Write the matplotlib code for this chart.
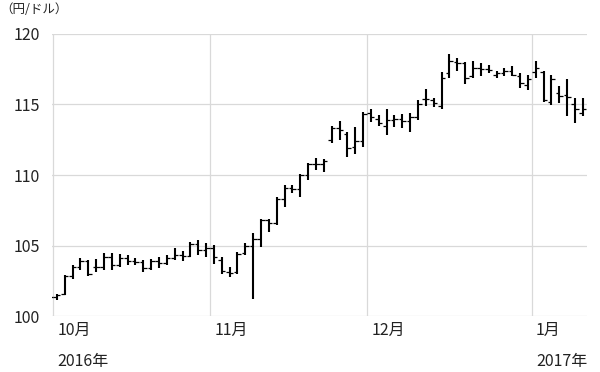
import numpy as np
from matplotlib import pyplot as plt

plt.rcParams['font.family'] = ['Noto Sans CJK JP', 'DejaVu Sans']

# daily bars, 2016-09-30 .. 2017-01-13 (Tokyo trading days)
dates = ['09/30',
         '10/03', '10/04', '10/05', '10/06', '10/07', '10/11', '10/12', '10/13', '10/14', '10/17',
         '10/18', '10/19', '10/20', '10/21', '10/24', '10/25', '10/26', '10/27', '10/28', '10/31',
         '11/01', '11/02', '11/04', '11/07', '11/08', '11/09', '11/10', '11/11', '11/14', '11/15',
         '11/16', '11/17', '11/18', '11/21', '11/22', '11/24', '11/25', '11/28', '11/29', '11/30',
         '12/01', '12/02', '12/05', '12/06', '12/07', '12/08', '12/09', '12/12', '12/13', '12/14',
         '12/15', '12/16', '12/19', '12/20', '12/21', '12/22', '12/26', '12/27', '12/28', '12/29',
         '12/30',
         '01/04', '01/05', '01/06', '01/10', '01/11', '01/12', '01/13']

opens = [101.20,
         101.35, 101.55, 102.85, 103.50, 103.90, 103.50, 103.50, 104.20, 103.60, 104.10,
         103.90, 103.85, 103.40, 103.90, 103.80, 104.10, 104.30, 104.25, 105.10, 104.70,
         104.85, 104.00, 103.10, 103.10, 104.45, 105.00, 105.50, 106.80, 106.60, 108.30,
         109.10, 109.00, 110.00, 110.80, 110.80, 112.50, 113.30, 112.90, 112.00, 112.40,
         114.40, 114.00, 113.50, 113.90, 114.00, 113.80, 114.10, 115.40, 115.30, 114.90,
         117.20, 118.00, 117.90, 117.00, 117.60, 117.50, 117.10, 117.20, 117.40, 117.00,
         116.40,
         117.30, 117.30, 115.20, 115.80, 115.70, 115.00, 114.40]

highs = [101.60,
         101.60, 102.90, 103.60, 104.13, 104.00, 104.08, 104.50, 104.49, 104.39, 104.32,
         104.13, 103.97, 104.08, 104.16, 104.32, 104.80, 104.63, 105.27, 105.43, 105.20,
         105.03, 104.16, 103.50, 104.56, 105.15, 105.86, 106.92, 106.85, 108.45, 109.28,
         109.28, 110.10, 110.86, 111.24, 111.17, 113.46, 113.84, 113.06, 113.37, 114.43,
         114.71, 114.24, 114.71, 114.24, 114.31, 114.36, 115.30, 116.06, 115.43, 117.30,
         118.60, 118.32, 118.00, 118.06, 117.95, 117.78, 117.38, 117.55, 117.71, 117.24,
         117.07,
         118.09, 117.38, 117.07, 116.29, 116.77, 115.43, 115.43]

lows = [100.90,
        101.13, 101.50, 102.60, 103.26, 102.83, 103.14, 103.26, 103.30, 103.50, 103.60,
        103.60, 103.14, 103.30, 103.38, 103.60, 104.00, 103.92, 104.20, 104.32, 104.20,
        103.73, 102.98, 102.80, 103.02, 104.32, 101.20, 104.90, 105.97, 106.45, 107.70,
        108.74, 108.45, 109.68, 110.34, 110.18, 112.28, 112.47, 111.29, 111.52, 112.00,
        113.77, 113.46, 112.82, 113.41, 113.34, 113.06, 113.93, 114.88, 114.83, 114.71,
        116.90, 117.38, 116.48, 116.90, 117.00, 117.24, 116.90, 117.00, 117.00, 116.13,
        116.01,
        116.84, 115.18, 114.95, 115.07, 114.20, 113.65, 114.15]

closes = [101.35,
          101.50, 102.85, 103.50, 103.90, 103.00, 103.45, 104.20, 103.60, 104.15, 103.90,
          103.85, 103.40, 103.90, 103.80, 104.10, 104.30, 104.25, 105.10, 104.70, 104.85,
          104.20, 103.20, 103.05, 104.40, 105.00, 105.50, 106.80, 106.60, 108.30, 109.10,
          109.00, 110.00, 110.80, 110.80, 111.00, 113.30, 113.20, 111.90, 112.40, 114.30,
          114.10, 113.70, 113.90, 114.00, 113.80, 114.10, 115.00, 115.40, 115.10, 116.90,
          118.10, 117.90, 116.90, 117.60, 117.50, 117.45, 117.20, 117.40, 117.10, 116.50,
          116.80,
          117.60, 115.30, 116.80, 115.60, 115.50, 114.70, 114.70]

month_labels = ['10月', '11月', '12月', '1月']
month_start = ['10/03', '11/01', '12/01', '01/04']
year_labels = [('2016年', '10/03'), ('2017年', '01/04')]
yticks = [100, 105, 110, 115, 120]

x = np.arange(len(dates))
month_x = [dates.index(d) - 0.5 for d in month_start]

fig = plt.figure(figsize=(6.0, 3.72), dpi=100)
ax = fig.add_axes([0.087, 0.15, 0.891, 0.759])

# OHLC bars
ax.vlines(x, lows, highs, color='black', linewidth=1.5, zorder=3)
tick = 0.45
ax.hlines(opens, x - tick, x, color='black', linewidth=0.9, zorder=3)
ax.hlines(closes, x, x + tick, color='black', linewidth=0.9, zorder=3)

ax.set_xlim(0.4, len(dates) - 0.5)
ax.set_ylim(100, 120)
ax.set_yticks(yticks)
ax.set_xticks(month_x)
ax.set_xticklabels([])
ax.tick_params(axis='both', length=0, labelsize=11.5, colors='#222222')
ax.tick_params(axis='y', pad=9)
ax.grid(True, color='#d9d9d9', linewidth=0.9)
ax.set_axisbelow(True)
for s in ax.spines.values():
    s.set_visible(False)

for lab, mx in zip(month_labels, month_x):
    ax.annotate(lab, xy=(mx, 0), xycoords=('data', 'axes fraction'),
                xytext=(3, -10.5), textcoords='offset points',
                ha='left', va='center', fontsize=11.5, color='#222222')
for lab, d in year_labels:
    ax.annotate(lab, xy=(dates.index(d) - 0.5, 0), xycoords=('data', 'axes fraction'),
                xytext=(3, -32.5), textcoords='offset points',
                ha='left', va='center', fontsize=11.5, color='#222222')

fig.text(0.0, 0.975, '（円/ドル）', ha='left', va='center', fontsize=9, color='#222222')

fig.savefig('out.png', dpi=100)
